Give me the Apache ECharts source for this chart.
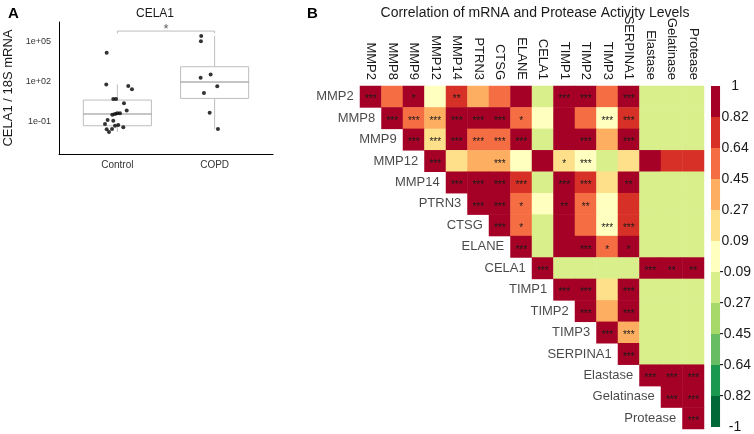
<!DOCTYPE html>
<html>
<head>
<meta charset="utf-8">
<title>CELA1 and protease correlations</title>
<script src="https://cdn.jsdelivr.net/npm/echarts@6/dist/echarts.min.js"></script>
<style>
    * { margin: 0; padding: 0; }
    html, body { width: 100%; height: 100%; overflow: hidden; background: #fff; }
    #chart { width: 754px; height: 434px; }
</style>
</head>
<body>
<div id="chart"></div>
<script>
// ---- panel A: CELA1 / 18S mRNA (log scale) ----
const groups = ['Control', 'COPD'];
// jittered points: [x position, ratio]
const controlPoints = [
    [0.890, 1.48e4], [0.886, 63], [1.112, 48], [1.150, 27], [0.958, 5.0], [0.986, 5.0],
    [1.068, 2.4], [1.096, 0.71], [0.948, 0.33], [0.976, 0.38], [0.999, 0.43], [1.027, 0.43],
    [0.900, 0.135], [0.958, 0.117], [0.873, 0.068], [0.976, 0.05], [1.009, 0.056],
    [1.061, 0.038], [0.945, 0.028], [0.890, 0.027], [0.914, 0.017]
];
const copdPoints = [
    [1.862, 2.7e5], [1.859, 1.07e5], [1.959, 355], [1.856, 200],
    [2.027, 45], [1.890, 14], [1.949, 0.47], [2.034, 0.028]
];
// box stats per group: [min, Q1, median, Q3, max]
const boxStats = [
    [0.017, 0.05, 0.38, 4.2, 63],
    [0.028, 5.6, 95, 1333, 2.7e5]
];
const yTicks = [0.1, 100, 1e5];
const bracket = [4.2e5, 6.3e5];   // leg bottom, bar height

// ---- panel B: correlation matrix (upper triangle, row i starts at column i) ----
const genes = ['MMP2', 'MMP8', 'MMP9', 'MMP12', 'MMP14', 'PTRN3', 'CTSG', 'ELANE', 'CELA1',
    'TIMP1', 'TIMP2', 'TIMP3', 'SERPINA1', 'Elastase', 'Gelatinase', 'Protease'];
const corr = [
    [1, 0.55, 0.86, 0.03, 0.74, 0.38, 0.52, 0.84, -0.14, 0.91, 0.89, 0.50, 0.88, -0.15, -0.15, -0.15],
    [1, 0.56, 0.40, 0.90, 0.86, 0.87, 0.51, 0.01, 0.92, 0.54, 0.05, 0.75, -0.15, -0.15, -0.15],
    [1, 0.22, 0.93, 0.57, 0.53, 0.85, -0.13, 0.90, 0.88, 0.35, 0.87, -0.15, -0.15, -0.15],
    [1, 0.20, 0.33, 0.37, 0.04, 0.92, 0.21, 0.07, -0.12, 0.19, 0.90, 0.75, 0.73],
    [1, 0.91, 0.89, 0.74, -0.14, 0.93, 0.72, 0.17, 0.85, -0.15, -0.15, -0.15],
    [1, 0.92, 0.53, 0.04, 0.88, 0.56, 0.06, 0.70, -0.15, -0.15, -0.15],
    [1, 0.55, -0.12, 0.90, 0.58, 0.02, 0.71, -0.15, -0.15, -0.15],
    [1, -0.14, 0.89, 0.86, 0.52, 0.84, -0.15, -0.15, -0.15],
    [1, -0.15, -0.15, -0.15, -0.15, 0.93, 0.90, 0.89],
    [1, 0.94, 0.19, 0.90, -0.15, -0.15, -0.15],
    [1, 0.35, 0.91, -0.15, -0.15, -0.15],
    [1, 0.37, -0.15, -0.15, -0.15],
    [1, -0.15, -0.15, -0.15],
    [1, 0.95, 0.93],
    [1, 0.96],
    [1]
];
const stars = [
    ['***', '', '*', '', '**', '', '', '', '', '***', '***', '', '***', '', '', ''],
    ['***', '***', '***', '***', '***', '***', '*', '', '', '', '***', '***', '', '', ''],
    ['***', '***', '***', '***', '***', '***', '', '', '***', '', '***', '', '', ''],
    ['***', '', '', '***', '', '', '*', '***', '', '', '', '', ''],
    ['***', '***', '***', '***', '', '***', '***', '', '**', '', '', ''],
    ['***', '***', '*', '', '**', '**', '', '', '', '', ''],
    ['***', '*', '', '', '', '***', '***', '', '', ''],
    ['***', '', '', '***', '*', '*', '', '', ''],
    ['***', '', '', '', '', '***', '**', '**'],
    ['***', '***', '', '***', '', '', ''],
    ['***', '', '***', '', '', ''],
    ['***', '***', '', '', ''],
    ['***', '', '', ''],
    ['***', '***', '***'],
    ['***', '***'],
    ['***']
];
const scaleEdges = [-1, -0.8182, -0.6364, -0.4545, -0.2727, -0.0909, 0.0909, 0.2727, 0.4545, 0.6364, 0.8182, 1];
const scaleColors = ['#006837', '#1a9850', '#66bd63', '#a6d96a', '#d9ef8b', '#ffffbf',
    '#fee08b', '#fdae61', '#f46d43', '#d73027', '#a50026'];

const lg = Math.log10;
const font = 'Liberation Sans, Arial, sans-serif';

let chart = echarts.init(document.getElementById('chart'));

let heatData = [];
corr.forEach((row, i) => {
    row.forEach((v, k) => heatData.push([i + k, i, v, stars[i][k]]));
});

let pieces = scaleColors.map((c, i) => {
    let p = { gte: scaleEdges[i], color: c };
    if (i === scaleColors.length - 1) p.lte = scaleEdges[i + 1]; else p.lt = scaleEdges[i + 1];
    return p;
});
let bins = scaleColors.map((c, i) => [0, scaleEdges[i], scaleEdges[i + 1], i]);

function expLabel(v) {
    let e = Math.round(v);
    return '1e' + (e < 0 ? '-' : '+') + String(Math.abs(e)).padStart(2, '0');
}
function edgeLabel(v) {
    return Math.abs(Math.abs(v) - 1) < 1e-6 ? String(Math.round(v)) : v.toFixed(2);
}

let option = {
    animation: false,
    textStyle: { fontFamily: font },
    title: [
        { text: 'A', left: 3, top: 1, textStyle: { fontSize: 15, fontWeight: 'bold', color: '#000' } },
        { text: 'CELA1', left: 150, top: 3, textAlign: 'center', textStyle: { fontSize: 12, fontWeight: 'normal', color: '#1a1a1a' } },
        { text: 'B', left: 302, top: 1, textStyle: { fontSize: 15, fontWeight: 'bold', color: '#000' } },
        { text: 'Correlation of mRNA and Protease Activity Levels', left: 530, top: 1, textAlign: 'center',
          textStyle: { fontSize: 14, fontWeight: 'normal', color: '#1a1a1a' } }
    ],
    grid: [
        { left: 59, top: 22, width: 214, height: 132 },
        { left: 360, top: 86, width: 344, height: 343 },
        { left: 711, top: 86, width: 12, height: 343 }
    ],
    xAxis: [
        {
            gridIndex: 0, type: 'value', min: 0.4, max: 2.6,
            axisLine: { onZero: false, lineStyle: { color: '#000', width: 1 } },
            axisTick: { show: false }, splitLine: { show: false },
            axisLabel: { customValues: [1, 2], formatter: v => groups[Math.round(v) - 1],
                         fontSize: 10, color: '#333', margin: 6 }
        },
        {
            gridIndex: 1, type: 'category', data: genes, position: 'top',
            axisLine: { show: false }, axisTick: { show: false }, splitLine: { show: false },
            axisLabel: { rotate: 90, margin: 6, fontSize: 13, color: '#1a1a1a', interval: 0 }
        },
        {
            gridIndex: 2, type: 'category', data: ['scale'], show: false
        }
    ],
    yAxis: [
        {
            gridIndex: 0, type: 'value', min: -3.42, max: 6.48,
            name: 'CELA1 / 18S mRNA', nameLocation: 'middle', nameGap: 44,
            nameTextStyle: { fontSize: 13, color: '#1a1a1a' },
            axisLine: { show: true, onZero: false, lineStyle: { color: '#000', width: 1 } },
            axisTick: { show: false }, splitLine: { show: false },
            axisLabel: { customValues: yTicks.map(lg), formatter: expLabel, fontSize: 9, color: '#333', margin: 8 }
        },
        {
            gridIndex: 1, type: 'category', data: genes, inverse: true, show: false
        },
        {
            gridIndex: 2, type: 'value', min: -1, max: 1, position: 'right',
            axisLine: { show: false }, axisTick: { show: false }, splitLine: { show: false },
            axisLabel: { customValues: scaleEdges, formatter: edgeLabel, fontSize: 14, color: '#1a1a1a',
                         align: 'center', margin: 15 }
        }
    ],
    visualMap: {
        type: 'piecewise', show: false, seriesIndex: 4, dimension: 2, pieces: pieces
    },
    series: [
        {
            // boxes
            type: 'custom', xAxisIndex: 0, yAxisIndex: 0,
            data: boxStats.map((s, i) => [i + 1].concat(s.map(lg))),
            encode: { x: 0, y: [1, 2, 3, 4, 5] },
            renderItem: function (params, api) {
                let x = api.value(0);
                let c = v => api.coord([x, api.value(v)]);
                let half = api.size([0.7, 0])[0] / 2;
                let lo = c(1), q1 = c(2), med = c(3), q3 = c(4), hi = c(5);
                let grey = { stroke: '#bdbdbd', lineWidth: 1 };
                return {
                    type: 'group',
                    children: [
                        { type: 'line', shape: { x1: hi[0], y1: hi[1], x2: q3[0], y2: q3[1] }, style: grey },
                        { type: 'line', shape: { x1: q1[0], y1: q1[1], x2: lo[0], y2: lo[1] }, style: grey },
                        { type: 'rect', shape: { x: q3[0] - half, y: q3[1], width: half * 2, height: q1[1] - q3[1] },
                          style: { fill: '#fff', stroke: '#bdbdbd', lineWidth: 1 } },
                        { type: 'line', shape: { x1: med[0] - half, y1: med[1], x2: med[0] + half, y2: med[1] },
                          style: { stroke: '#8c8c8c', lineWidth: 1 } }
                    ]
                };
            }
        },
        {
            type: 'scatter', xAxisIndex: 0, yAxisIndex: 0, z: 3,
            data: controlPoints.concat(copdPoints).map(p => [p[0], lg(p[1])]),
            symbolSize: 4, itemStyle: { color: '#000' }, silent: true
        },
        {
            // significance bracket
            type: 'line', xAxisIndex: 0, yAxisIndex: 0, symbol: 'none', silent: true,
            data: [[1, lg(bracket[0])], [1, lg(bracket[1])], [2, lg(bracket[1])], [2, lg(bracket[0])]],
            lineStyle: { color: '#bdbdbd', width: 1 }
        },
        {
            type: 'scatter', xAxisIndex: 0, yAxisIndex: 0, symbolSize: 0, silent: true,
            data: [[1.5, lg(bracket[1])]],
            label: { show: true, formatter: '*', position: 'inside', offset: [0, -2], fontSize: 13, color: '#333' }
        },
        {
            type: 'heatmap', xAxisIndex: 1, yAxisIndex: 1,
            data: heatData,
            label: { show: true, formatter: p => p.data[3], fontSize: 10, color: '#1a1a1a', offset: [0, 3] },
            emphasis: { disabled: true }
        },
        {
            // row labels on the diagonal
            type: 'scatter', xAxisIndex: 1, yAxisIndex: 1, symbolSize: 0, silent: true,
            data: genes.map(g => [g, g]),
            label: { show: true, position: 'left', distance: 17, formatter: p => p.data[0],
                     fontSize: 13, color: '#1a1a1a' }
        },
        {
            // colour scale
            type: 'custom', xAxisIndex: 2, yAxisIndex: 2, silent: true,
            data: bins,
            encode: { x: 0, y: [1, 2] },
            renderItem: function (params, api) {
                let a = api.coord([api.value(0), api.value(1)]);
                let b = api.coord([api.value(0), api.value(2)]);
                let w = api.size([1, 0])[0];
                return {
                    type: 'rect',
                    shape: { x: a[0] - w / 2, y: b[1], width: w, height: a[1] - b[1] },
                    style: { fill: scaleColors[api.value(3)] }
                };
            }
        }
    ]
};
chart.setOption(option);
</script>
</body>
</html>
